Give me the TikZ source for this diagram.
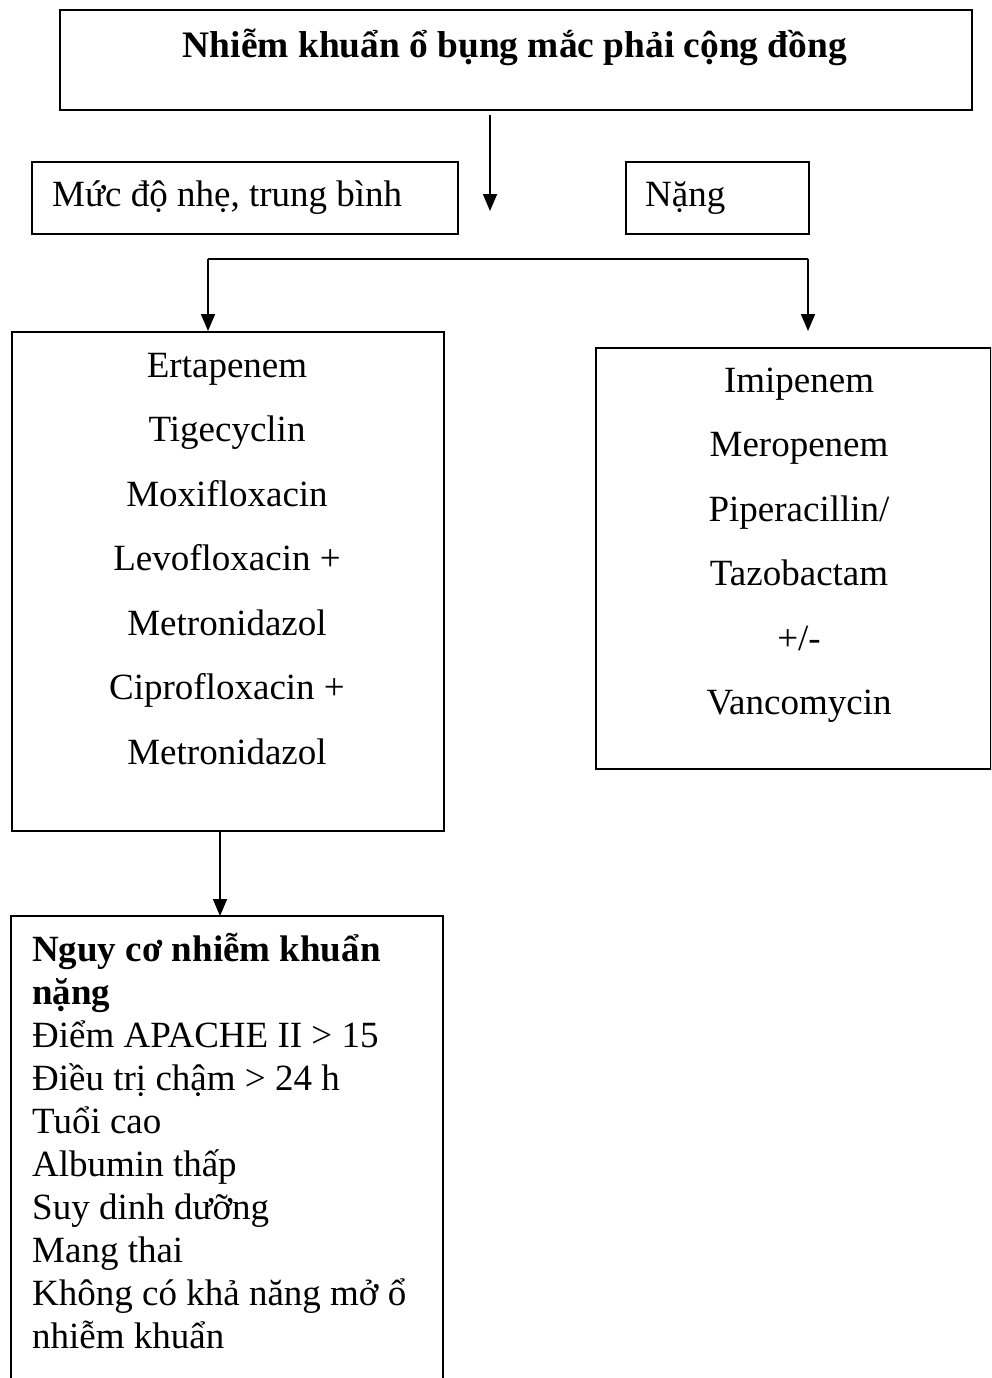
\documentclass[tikz,border=0pt]{standalone}
\usepackage{fontspec}
\setmainfont{Liberation Serif}
\usetikzlibrary{arrows.meta}
\begin{document}
\begin{tikzpicture}[x=1pt,y=-1pt,
  box/.style={draw,line width=1.8pt,inner sep=0pt,anchor=north west},
  txt/.style={inner sep=0pt,font=\fontsize{37}{43}\selectfont},
  flow/.style={line width=1.8pt,-{Triangle[width=14pt,length=17pt]}},
  link/.style={line width=1.8pt}]
\useasboundingbox (0,0) rectangle (991,1378);
\clip (0,0) rectangle (991,1378);

% boxes
\node[box,minimum width=912pt,minimum height=100pt] (top) at (59,9) {};
\node[box,minimum width=426pt,minimum height=72pt] (mild) at (31,161) {};
\node[box,minimum width=183pt,minimum height=72pt] (severe) at (625,161) {};
\node[box,minimum width=432pt,minimum height=499pt] (left) at (11,331) {};
\node[box,minimum width=395pt,minimum height=421pt] (right) at (595,347) {};
% risk box runs past the lower edge of the page
\draw[line width=1.8pt] (11,1400) -- (11,916) coordinate (riskTL) -- (443,916) coordinate (riskTR) -- (443,1400);

% texts
\node[txt,anchor=base,font=\fontsize{37.4}{43}\selectfont\bfseries] (title) at (515,58) {Nhiễm khuẩn ổ bụng mắc phải cộng đồng};
\node[txt,anchor=base west] (mildtxt) at (52,206) {Mức độ nhẹ, trung bình};
\node[txt,anchor=base west] (severetxt) at (645,206) {Nặng};

\foreach \t [count=\i from 0] in {Ertapenem,Tigecyclin,Moxifloxacin,Levofloxacin +,Metronidazol,Ciprofloxacin +,Metronidazol}
  \node[txt,anchor=base] (l\i) at (227,377+64.5*\i) {\t};

\foreach \t [count=\i from 0] in {Imipenem,Meropenem,Piperacillin/,Tazobactam,+/-,Vancomycin}
  \node[txt,anchor=base] (r\i) at (799,392+64.5*\i) {\t};

\foreach \t [count=\i from 0] in {\textbf{Nguy cơ nhiễm khuẩn},\textbf{nặng},Điểm APACHE II > 15,Điều trị chậm > 24 h,Tuổi cao,Albumin thấp,Suy dinh dưỡng,Mang thai,Không có khả năng mở ổ,nhiễm khuẩn}
  \node[txt,anchor=base west] (k\i) at (32,961+43*\i) {\t};

% connectors
\coordinate (a0) at (490,115);
\coordinate (a1) at (490,211);
\draw[flow] (a0) -- (a1);
\coordinate (bL) at (208,259);
\coordinate (bR) at (808,259);
\draw[link] (bL) -- (bR);
\draw[flow] (bL) -- (bL |- left.north);
\coordinate (rEnd) at (808,331);
\draw[flow] (bR) -- (rEnd);
\coordinate (c0) at (220,830);
\draw[flow] (c0) -- (riskTL -| c0);
\end{tikzpicture}
\end{document}
